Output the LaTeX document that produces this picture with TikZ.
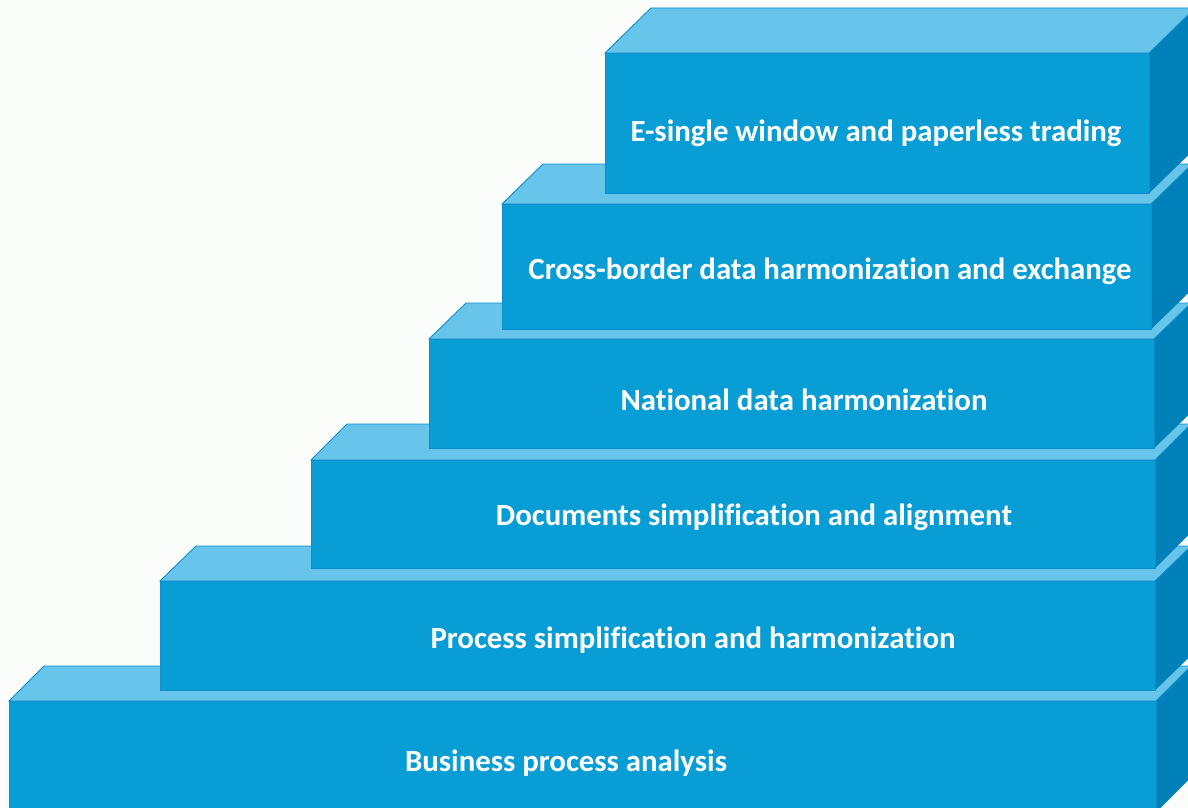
\documentclass[tikz,border=0pt]{standalone}
\usepackage{fontspec}
\setmainfont[Ligatures=NoCommon]{Carlito}
\definecolor{frontc}{RGB}{8,158,213}
\definecolor{topc}{RGB}{103,197,236}
\definecolor{sidec}{RGB}{0,128,184}
\definecolor{edgec}{RGB}{16,142,202}
\definecolor{bgc}{RGB}{251,253,251}
\tikzset{
  frontface/.style={fill=frontc, draw=edgec, line width=0.9pt, line join=miter},
  topface/.style={fill=topc, draw=edgec, line width=0.9pt, line join=miter},
  sideface/.style={fill=sidec, draw=sidec, line width=0.5pt, line join=miter},
  label/.style={text=white, font=\bfseries\fontsize{30.8}{36}\selectfont, anchor=base, inner sep=0pt}
}
% #1 left, #2 top, #3 bottom, #4 right, #5 dx, #6 dy
\newcommand\stairbox[6]{%
  \fill[sideface] (#4,#2) -- (#4+#5,#2-#6) -- (#4+#5,#3-#6) -- (#4,#3) -- cycle;
  \filldraw[topface] (#1,#2) -- (#1+#5,#2-#6) -- (#4+#5,#2-#6) -- (#4,#2) -- cycle;
  \filldraw[frontface] (#1,#2) rectangle (#4,#3);
}
\begin{document}
\begin{tikzpicture}[x=1pt,y=-1pt]
\useasboundingbox (0,0) rectangle (1188,808);
\clip (0,0) rectangle (1188,808);
\fill[bgc] (0,0) rectangle (1188,808);
\stairbox{9}{701}{812}{1156}{35}{35}
\stairbox{160}{581}{690}{1155}{36}{35}
\stairbox{311}{460}{568}{1155}{36}{36}
\stairbox{429}{339}{448}{1154}{37}{36}
\stairbox{502}{204}{329}{1151}{41}{40}
\stairbox{605}{53}{193}{1149}{46}{45}
\node[label] (t6) at (566,771) {Business process analysis};
\node[label] (t5) at (693,648) {Process simplification and harmonization};
\node[label] (t4) at (754,525) {Documents simplification and alignment};
\node[label] (t3) at (804,410) {National data harmonization};
\node[label] (t2) at (830,279) {Cross-border data harmonization and exchange};
\node[label] (t1) at (876,141) {E-single window and paperless trading};
\end{tikzpicture}
\end{document}
